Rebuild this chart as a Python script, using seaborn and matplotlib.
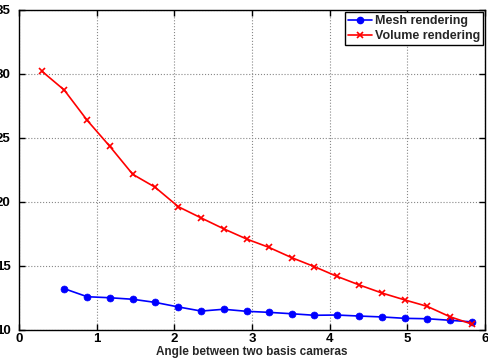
import numpy as np
import pandas as pd
import seaborn as sns
import matplotlib
matplotlib.use("Agg")
import matplotlib.pyplot as plt
from matplotlib.lines import Line2D

# ---- data ----
x_vals = [0.296, 0.582, 0.878, 1.169, 1.465, 1.751, 2.052, 2.347, 2.634, 2.930,
          3.216, 3.512, 3.803, 4.090, 4.381, 4.673, 4.972, 5.255, 5.547, 5.837]
volume = [30.21, 28.75, 26.38, 24.35, 22.16, 21.16, 19.63, 18.75, 17.91, 17.11,
          16.46, 15.65, 14.95, 14.20, 13.52, 12.89, 12.34, 11.85, 11.04, 10.45]
mesh_x = x_vals[1:]
mesh = [13.23, 12.60, 12.52, 12.40, 12.16, 11.80, 11.48, 11.62, 11.46, 11.38,
        11.27, 11.15, 11.17, 11.09, 11.02, 10.91, 10.88, 10.76, 10.63]
xticks = [0, 1, 2, 3, 4, 5, 6]
yticks = [10, 15, 20, 25, 30, 35]
series_names = ["Mesh rendering", "Volume rendering"]
xlabel = "Angle between two basis cameras"

df_mesh = pd.DataFrame({"x": mesh_x, "y": mesh})
df_vol = pd.DataFrame({"x": x_vals, "y": volume})

sns.set_theme(style="white")
plt.rcParams['font.family'] = ['Liberation Sans', 'DejaVu Sans']
plt.rcParams['font.weight'] = 'bold'

fig = plt.figure(figsize=(4.89, 3.62), dpi=100)
ax = fig.add_axes([19/489, 32/362, (485-19)/489, (330-10)/362])

sns.lineplot(data=df_mesh, x="x", y="y", color="#0000ff", marker="o",
             markersize=5, markeredgecolor="#0000ff", markeredgewidth=0.5,
             linewidth=1.2, ax=ax, sort=False, label=series_names[0])
sns.lineplot(data=df_vol, x="x", y="y", color="#ff0000", marker="x",
             markersize=5, markeredgecolor="#ff0000", markeredgewidth=1.2,
             linewidth=1.2, ax=ax, sort=False, label=series_names[1])

ax.set_xlim(0, 6)
ax.set_ylim(10, 35)
ax.set_xticks(xticks)
ax.set_yticks(yticks)
ax.set_xticklabels([str(t) for t in xticks], fontsize=9.5, fontweight='bold')
ax.set_yticklabels([str(t) for t in yticks], fontsize=9.5, fontweight='bold')
ax.set_xlabel(xlabel, fontsize=8.5, fontweight='bold', labelpad=1)
ax.set_ylabel("")
ax.tick_params(direction='in', length=4, width=1, colors='black',
               top=True, right=True, bottom=True, left=True)
ax.tick_params(axis='x', pad=2)
ax.tick_params(axis='y', pad=6)
ax.grid(True, linestyle=':', color='#888888', linewidth=0.8)
for s in ax.spines.values():
    s.set_color('black')
    s.set_linewidth(1.0)

h = [Line2D([], [], color="#0000ff", marker="o", markersize=4.5, linewidth=1.2),
     Line2D([], [], color="#ff0000", marker="x", markersize=4.5, markeredgewidth=1.2, linewidth=1.2)]
leg = ax.legend(h, series_names, loc="upper right", fancybox=False, framealpha=1,
                edgecolor='black', borderaxespad=0.15, handlelength=1.9,
                handletextpad=0.2, borderpad=0.25, labelspacing=0.25,
                prop={'weight': 'bold', 'size': 9})
leg.get_frame().set_linewidth(1.0)

fig.savefig("out.png", dpi=100)
